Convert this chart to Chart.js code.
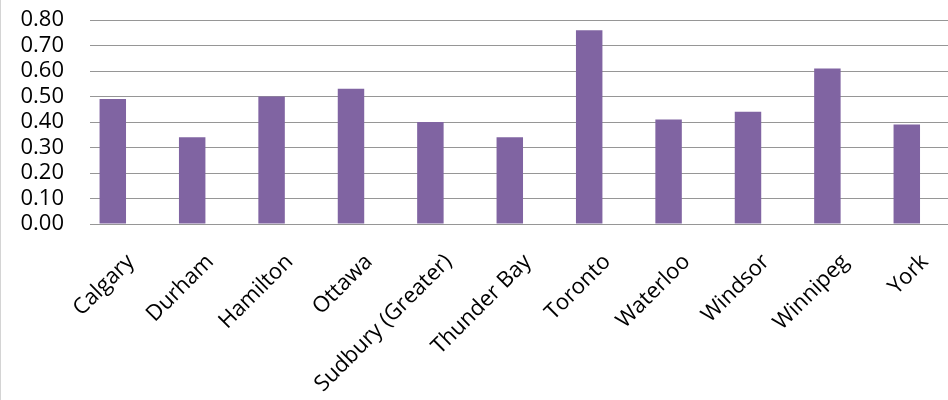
<!DOCTYPE html>
<html>
<head>
<meta charset="utf-8">
<script src="https://cdn.jsdelivr.net/npm/chart.js@4"></script>
<style>
  html, body { margin: 0; padding: 0; background: #fff; }
  #frame { width: 947px; height: 400px; border-left: 1px solid #d4d4d4; }
  canvas { display: block; }
</style>
</head>
<body>
<div id="frame"><canvas id="c" width="947" height="400"></canvas></div>
<script>
// Cities shown along the horizontal axis
const cities = ['Calgary', 'Durham', 'Hamilton', 'Ottawa', 'Sudbury (Greater)',
  'Thunder Bay', 'Toronto', 'Waterloo', 'Windsor', 'Winnipeg', 'York'];
// One value per city
const rates = [0.49, 0.34, 0.50, 0.53, 0.40, 0.34, 0.76, 0.41, 0.44, 0.61, 0.39];
// Vertical axis range and step
const yMin = 0, yMax = 0.8, yStep = 0.1;

const labelFont = { family: "'Open Sans', 'Noto Sans', sans-serif", size: 22 };

new Chart(document.getElementById('c'), {
  type: 'bar',
  data: {
    datasets: [{
      data: rates.map((v, i) => ({ x: i, y: v })),
      backgroundColor: '#8064A2',
      borderWidth: 0,
      categoryPercentage: 1,
      barPercentage: 1 / 3
    }]
  },
  options: {
    responsive: false,
    animation: false,
    layout: { padding: { top: 20, left: 0, right: 0, bottom: 0 } },
    plugins: { legend: { display: false }, tooltip: { enabled: false } },
    scales: {
      x: {
        type: 'linear',
        offset: false,
        min: -0.287,
        max: 10.519,
        grid: { display: false },
        border: { display: false },
        afterBuildTicks: s => { s.ticks = cities.map((_, i) => ({ value: i })); },
        afterFit: s => { s.height = 176; s.paddingLeft = 0; s.paddingRight = 0; },
        ticks: {
          autoSkip: false,
          maxRotation: 45,
          minRotation: 45,
          padding: 17,
          labelOffset: 18,
          color: '#000',
          font: labelFont,
          callback: v => cities[v]
        }
      },
      y: {
        min: yMin,
        max: yMax,
        grid: { color: '#969696', lineWidth: 1, drawTicks: false },
        border: { display: false },
        afterFit: s => { s.width = 89; s.paddingTop = 0; s.paddingBottom = 0; },
        ticks: {
          autoSkip: false,
          stepSize: yStep,
          padding: 26,
          color: '#000',
          font: labelFont,
          callback: v => v.toFixed(2)
        }
      }
    }
  }
});
</script>
</body>
</html>
